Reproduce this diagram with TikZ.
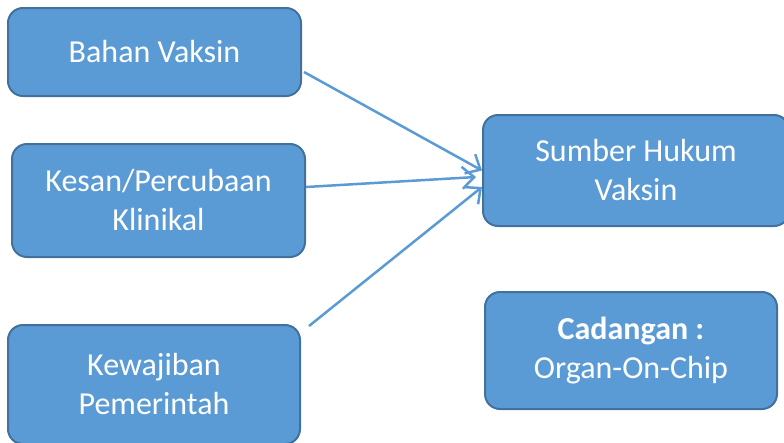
\documentclass[tikz,border=0pt]{standalone}
\usepackage{fontspec}
\setmainfont{Carlito}
\usetikzlibrary{arrows.meta}
\definecolor{boxfill}{HTML}{5B9BD5}
\definecolor{boxline}{HTML}{41719C}

\begin{document}
\begin{tikzpicture}[x=1pt, y=-1pt,
  box/.style={draw=boxline, line width=2pt, fill=boxfill, rounded corners=15pt,
    text=white, align=center, inner sep=0pt, font=\fontsize{32}{39}\selectfont},
  link/.style={draw=boxfill, line width=2.5pt, -{Straight Barb[length=12pt,width=22pt]}}]

\useasboundingbox (0,0) rectangle (784,442);

\node [box, minimum width=293pt, minimum height=88pt] (bahan) at (154.5,52) {Bahan Vaksin};
\node [box, minimum width=293pt, minimum height=113pt] (kesan) at (158.5,200.5) {Kesan/Percubaan\\Klinikal};
\node [box, minimum width=292pt, minimum height=119pt] (kewajiban) at (154,384.5) {Kewajiban\\Pemerintah};

\node [box, minimum width=306pt, minimum height=111pt] (sumber) at (636,170.5) {Sumber Hukum\\Vaksin};
\node [box, minimum width=292pt, minimum height=117pt] (cadangan) at (631,350.5) {\textbf{Cadangan :}\\Organ-On-Chip};

\draw [link] ([xshift=2pt, yshift=-20pt]bahan.east) -- (sumber.west);
\draw [link] ([yshift=13.5pt]kesan.east) -- ([xshift=-6pt, yshift=-6.5pt]sumber.west);
\draw [link] ([xshift=8pt, yshift=-2pt]kewajiban.north east) -- ([yshift=-16.5pt]sumber.west);
\end{tikzpicture}
\end{document}
